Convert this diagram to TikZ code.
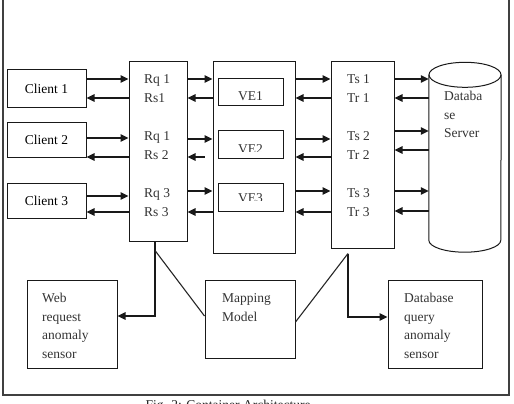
\documentclass[tikz,border=0pt]{standalone}
\usepackage{fontspec}
\setmainfont{Liberation Serif}
\usetikzlibrary{arrows.meta,calc}

\tikzset{
  box/.style={draw=black!90, line width=1pt, inner sep=0pt},
  arr/.style={draw=black!90, line width=1.4pt, -{Triangle[length=8pt,width=7.5pt]}},
  conn/.style={draw=black!85, line width=1.1pt},
  lbl/.style={inner sep=0pt, text height=9pt, text depth=0pt, anchor=west, text=black!80},
  para/.style={inner sep=0pt, align=left, anchor=north west, text=black!80},
  frame/.style={draw=black!75, line width=1.6pt}
}

\begin{document}
\begin{tikzpicture}[x=1pt,y=-1pt,font=\fontsize{13.5}{18.5}\selectfont]
\useasboundingbox (0,0) rectangle (514,404);

% outer frame (open at the top)
\draw[frame] (3,0) -- (3,395) -- (509,395) -- (509,0);

% clients
\node[box, minimum width=79pt, minimum height=37pt] (c1) at (46.5,88.5) {Client 1};
\node[box, minimum width=79pt, minimum height=35pt] (c2) at (46.5,140) {Client 2};
\node[box, minimum width=79pt, minimum height=35pt] (c3) at (46.5,200.5) {Client 3};

% request / response column
\node[box, minimum width=58pt, minimum height=179pt] (rq) at (158,151.5) {};
\node[lbl] (rq1l) at (144,79) {Rq 1};
\node[lbl] (rs1l) at (144,98) {Rs1};
\node[lbl] (rq2l) at (144,136) {Rq 1};
\node[lbl] (rs2l) at (144,155) {Rs 2};
\node[lbl] (rq3l) at (144,193) {Rq 3};
\node[lbl] (rs3l) at (144,212) {Rs 3};

% virtual engines
\node[box, minimum width=82pt, minimum height=191pt] (ve) at (254,157.5) {};
\node[box, minimum width=65pt, minimum height=26pt] (ve1) at (250.5,92) {};
\node[box, minimum width=65pt, minimum height=28pt] (ve2) at (250.5,144) {};
\node[box, minimum width=65pt, minimum height=28pt] (ve3) at (250.5,197) {};
\node[inner sep=0pt, anchor=base, text=black!80] (ve1t) at (250.5,100) {VE1};
\begin{scope}
  \clip (218,120) rectangle (283,151.5);
  \node[inner sep=0pt, anchor=base, text=black!80] (ve2t) at (250.5,153) {VE2};
\end{scope}
\begin{scope}
  \clip (218,180) rectangle (283,200.5);
  \node[inner sep=0pt, anchor=base, text=black!80] (ve3t) at (250.5,202) {VE3};
\end{scope}

% transaction column
\node[box, minimum width=63pt, minimum height=186pt] (ts) at (362.5,155) {};
\node[lbl] (ts1l) at (347,79) {Ts 1};
\node[lbl] (tr1l) at (347,98) {Tr 1};
\node[lbl] (ts2l) at (347,136) {Ts 2};
\node[lbl] (tr2l) at (347,155) {Tr 2};
\node[lbl] (ts3l) at (347,193) {Ts 3};
\node[lbl] (tr3l) at (347,212) {Tr 3};

% database server cylinder
\node[inner sep=0pt, minimum width=72pt, minimum height=165pt] (db) at (465,157.5) {};
\draw[box] (db.north west) -- (db.south west)
  arc[start angle=180, end angle=360, x radius=36pt, y radius=12pt]
  -- (db.north east);
\draw[box] (db.north) ellipse[x radius=36pt, y radius=12.5pt];
\node[para] (dbt) at (444,91) {Databa\\se\\Server};

% sensors and mapping model
\node[box, minimum width=90pt, minimum height=88pt] (web) at (72,324) {};
\node[para] (webt) at (42,293.3) {Web\\request\\anomaly\\sensor};
\node[box, minimum width=90pt, minimum height=78pt] (map) at (250,319) {};
\node[para, font=\fontsize{13.5}{19}\selectfont] (mapt) at (222,293.3) {Mapping\\Model};
\node[box, minimum width=94pt, minimum height=88pt] (dbq) at (435,324) {};
\node[para] (dbqt) at (404,293.3) {Database\\query\\anomaly\\sensor};

% client <-> request column
\draw[arr] (c1.east |- rq1l) -- (rq.west |- rq1l);
\draw[arr] (rq.west |- rs1l) -- (c1.east |- rs1l);
\draw[arr] ($(c2.east |- rq2l)+(0,2)$) -- ($(rq.west |- rq2l)+(0,2)$);
\draw[arr] ($(rq.west |- rs2l)+(0,2)$) -- ($(c2.east |- rs2l)+(0,2)$);
\draw[arr] ($(c3.east |- rq3l)+(0,3)$) -- ($(rq.west |- rq3l)+(0,3)$);
\draw[arr] (rq.west |- rs3l) -- (c3.east |- rs3l);

% request column <-> virtual engines
\draw[arr] (rq.east |- rq1l) -- (ve.west |- rq1l);
\draw[arr] (ve.west |- rs1l) -- (rq.east |- rs1l);
\draw[arr] ($(rq.east |- rq2l)+(0,3)$) -- ($(ve.west |- rq2l)+(0,3)$);
\draw[arr] ($(ve.west |- rs2l)+(-8,2)$) -- ($(rq.east |- rs2l)+(0,2)$);
\draw[arr] ($(rq.east |- rq3l)+(0,-2)$) -- ($(ve.west |- rq3l)+(0,-2)$);
\draw[arr] (ve.west |- rs3l) -- (rq.east |- rs3l);

% virtual engines <-> transaction column
\draw[arr] (ve.east |- ts1l) -- (ts.west |- ts1l);
\draw[arr] (ts.west |- tr1l) -- (ve.east |- tr1l);
\draw[arr] ($(ve.east |- ts2l)+(0,3)$) -- ($(ts.west |- ts2l)+(0,3)$);
\draw[arr] ($(ts.west |- tr2l)+(0,2)$) -- ($(ve.east |- tr2l)+(0,2)$);
\draw[arr] ($(ve.east |- ts3l)+(0,-2)$) -- ($(ts.west |- ts3l)+(0,-2)$);
\draw[arr] (ts.west |- tr3l) -- (ve.east |- tr3l);

% transaction column <-> database server
\draw[arr] (ts.east |- ts1l) -- (db.west |- ts1l);
\draw[arr] (db.west |- tr1l) -- (ts.east |- tr1l);
\draw[arr] ($(ts.east |- ts2l)+(0,-5)$) -- ($(db.west |- ts2l)+(0,-5)$);
\draw[arr] ($(db.west |- tr2l)+(0,-5)$) -- ($(ts.east |- tr2l)+(0,-5)$);
\draw[arr] ($(ts.east |- ts3l)+(0,-2)$) -- ($(db.west |- ts3l)+(0,-2)$);
\draw[arr] ($(db.west |- tr3l)+(0,-1)$) -- ($(ts.east |- tr3l)+(0,-1)$);

% feeds to the sensors and the mapping model
\coordinate (rqfoot) at ($(rq.south)+(-3,0)$);
\coordinate (rqsplit) at ($(rqfoot)+(0,9)$);
\draw[arr] (rqfoot) |- ($(web.east)+(0,-8)$);
\draw[conn] (rqsplit) -- ($(map.west)+(0,-3)$);
\coordinate (tsfoot) at ($(ts.south)+(-14.5,5)$);
\draw[arr] (tsfoot) |- ($(dbq.west)+(0,-7)$);
\draw[conn] (tsfoot) -- ($(map.east)+(0,3)$);

% caption
\node[inner sep=0pt, anchor=base, text=black!85] (cap) at (228,409.5) {Fig. 2: Container Architecture};
\end{tikzpicture}
\end{document}
